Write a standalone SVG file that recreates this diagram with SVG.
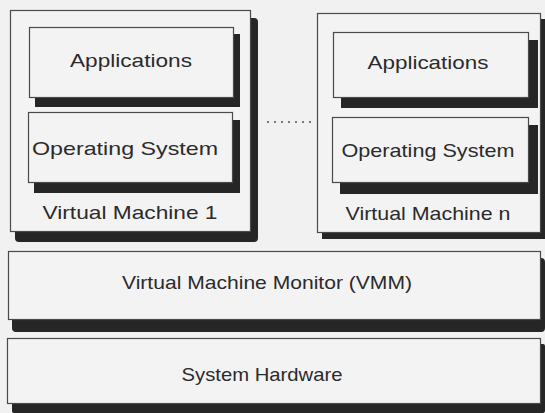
<svg xmlns="http://www.w3.org/2000/svg" width="545" height="413" viewBox="0 0 545 413">
  <style>
    .box { fill: #f3f3f3; stroke: #4a4a4a; stroke-width: 1.2; }
    .shadow { fill: #262626; }
    .label { font-family: "Liberation Sans", Arial, sans-serif; font-size: 19px; fill: #2b2b2b; text-anchor: middle; }
    .dots { stroke: #777; stroke-width: 2; stroke-dasharray: 2 5; fill: none; }
  </style>
  <rect x="0" y="0" width="545" height="413" fill="#f1f1f1"/>

  <!-- virtual machine 1 -->
  <g id="vm1">
    <rect class="shadow" x="15" y="18" width="243" height="224" rx="4"/>
    <rect class="box" x="10.5" y="10.5" width="240" height="221"/>
    <text class="label" x="130" y="219" textLength="175" lengthAdjust="spacingAndGlyphs">Virtual Machine 1</text>
  </g>
  <g id="vm1-apps">
    <rect class="shadow" x="35" y="34" width="205" height="73"/>
    <rect class="box" x="29.5" y="27.5" width="204" height="70"/>
    <text class="label" x="131" y="67" textLength="122" lengthAdjust="spacingAndGlyphs">Applications</text>
  </g>
  <g id="vm1-os">
    <rect class="shadow" x="34" y="120" width="206" height="73"/>
    <rect class="box" x="28.5" y="112.5" width="204" height="70"/>
    <text class="label" x="125" y="155" textLength="186" lengthAdjust="spacingAndGlyphs">Operating System</text>
  </g>

  <!-- virtual machine n -->
  <g id="vmn">
    <rect class="shadow" x="322" y="19" width="223" height="220"/>
    <rect class="box" x="317.5" y="13.5" width="223" height="219"/>
    <text class="label" x="428" y="220" textLength="165" lengthAdjust="spacingAndGlyphs">Virtual Machine n</text>
  </g>
  <g id="vmn-apps">
    <rect class="shadow" x="341" y="40" width="197" height="68"/>
    <rect class="box" x="333.5" y="32.5" width="195" height="65"/>
    <text class="label" x="428" y="69" textLength="121" lengthAdjust="spacingAndGlyphs">Applications</text>
  </g>
  <g id="vmn-os">
    <rect class="shadow" x="340" y="125" width="198" height="69"/>
    <rect class="box" x="332.5" y="117.5" width="196" height="65"/>
    <text class="label" x="428" y="157" textLength="173" lengthAdjust="spacingAndGlyphs">Operating System</text>
  </g>

  <!-- hypervisor layer -->
  <g id="vmm">
    <rect class="shadow" x="12" y="258" width="533" height="74" rx="4"/>
    <rect class="box" x="8.5" y="251.5" width="532" height="68"/>
    <text class="label" x="267" y="289" textLength="290" lengthAdjust="spacingAndGlyphs">Virtual Machine Monitor (VMM)</text>
  </g>

  <!-- physical layer -->
  <g id="hardware">
    <rect class="shadow" x="12" y="344" width="533" height="69" rx="2"/>
    <rect class="box" x="7.5" y="338.5" width="533" height="65"/>
    <text class="label" x="262" y="381" textLength="161" lengthAdjust="spacingAndGlyphs">System Hardware</text>
  </g>

  <g id="connectors">
    <line class="dots" x1="267" y1="122" x2="313" y2="122"/>
  </g>
</svg>
